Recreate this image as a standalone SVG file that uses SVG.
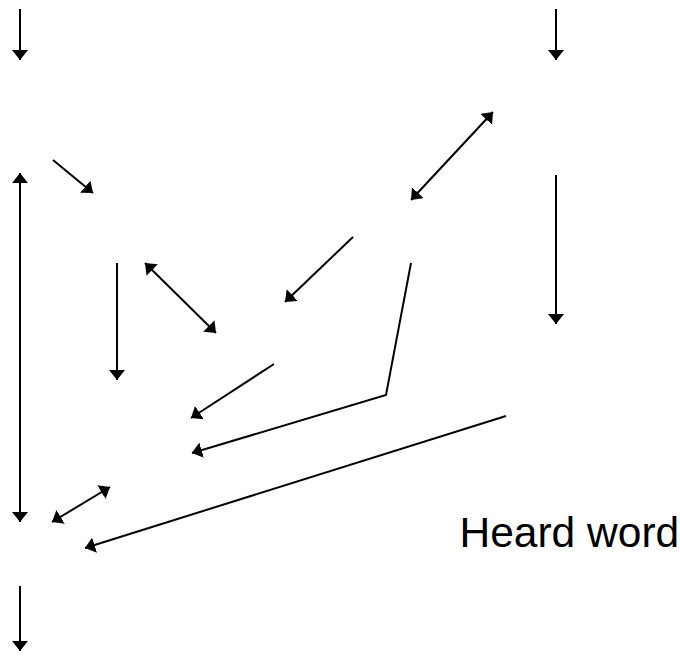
<svg xmlns="http://www.w3.org/2000/svg" width="680" height="655" viewBox="0 0 680 655">
  <style>
    .conn { fill: none; stroke: #000; stroke-width: 2; }
    .end { marker-end: url(#head); }
    .both { marker-start: url(#head); marker-end: url(#head); }
    .label { font-family: "Liberation Sans", Arial, sans-serif; font-size: 42.5px; fill: #000; }
  </style>
  <defs>
    <marker id="head" viewBox="0 0 10 16" markerWidth="10" markerHeight="16" refX="10" refY="8" markerUnits="userSpaceOnUse" orient="auto-start-reverse">
      <path d="M0,0 L10,8 L0,16 Z" fill="#000"/>
    </marker>
  </defs>
  <rect width="680" height="655" fill="#fff"/>

  <g id="connectors">
    <line class="conn end" x1="20" y1="9" x2="20" y2="60"/>
    <line class="conn end" x1="556" y1="9" x2="556" y2="60"/>
    <line class="conn both" x1="20" y1="173" x2="20" y2="522"/>
    <line class="conn end" x1="53" y1="160" x2="93" y2="193"/>
    <line class="conn both" x1="411" y1="200" x2="493" y2="112"/>
    <line class="conn end" x1="556" y1="175" x2="556" y2="324"/>
    <line class="conn end" x1="353" y1="237" x2="285" y2="302"/>
    <line class="conn end" x1="117" y1="263" x2="117" y2="380"/>
    <line class="conn both" x1="145" y1="263" x2="216" y2="333"/>
    <line class="conn end" x1="274" y1="364" x2="191" y2="418"/>
    <polyline class="conn end" points="411,263 386,395 192,453"/>
    <line class="conn end" x1="506" y1="416" x2="85" y2="548"/>
    <line class="conn both" x1="52" y1="522" x2="110" y2="487"/>
    <line class="conn end" x1="20" y1="586" x2="20" y2="651"/>
  </g>

  <g id="heard-word">
    <text class="label" x="459.5" y="547">Heard word</text>
  </g>
</svg>
